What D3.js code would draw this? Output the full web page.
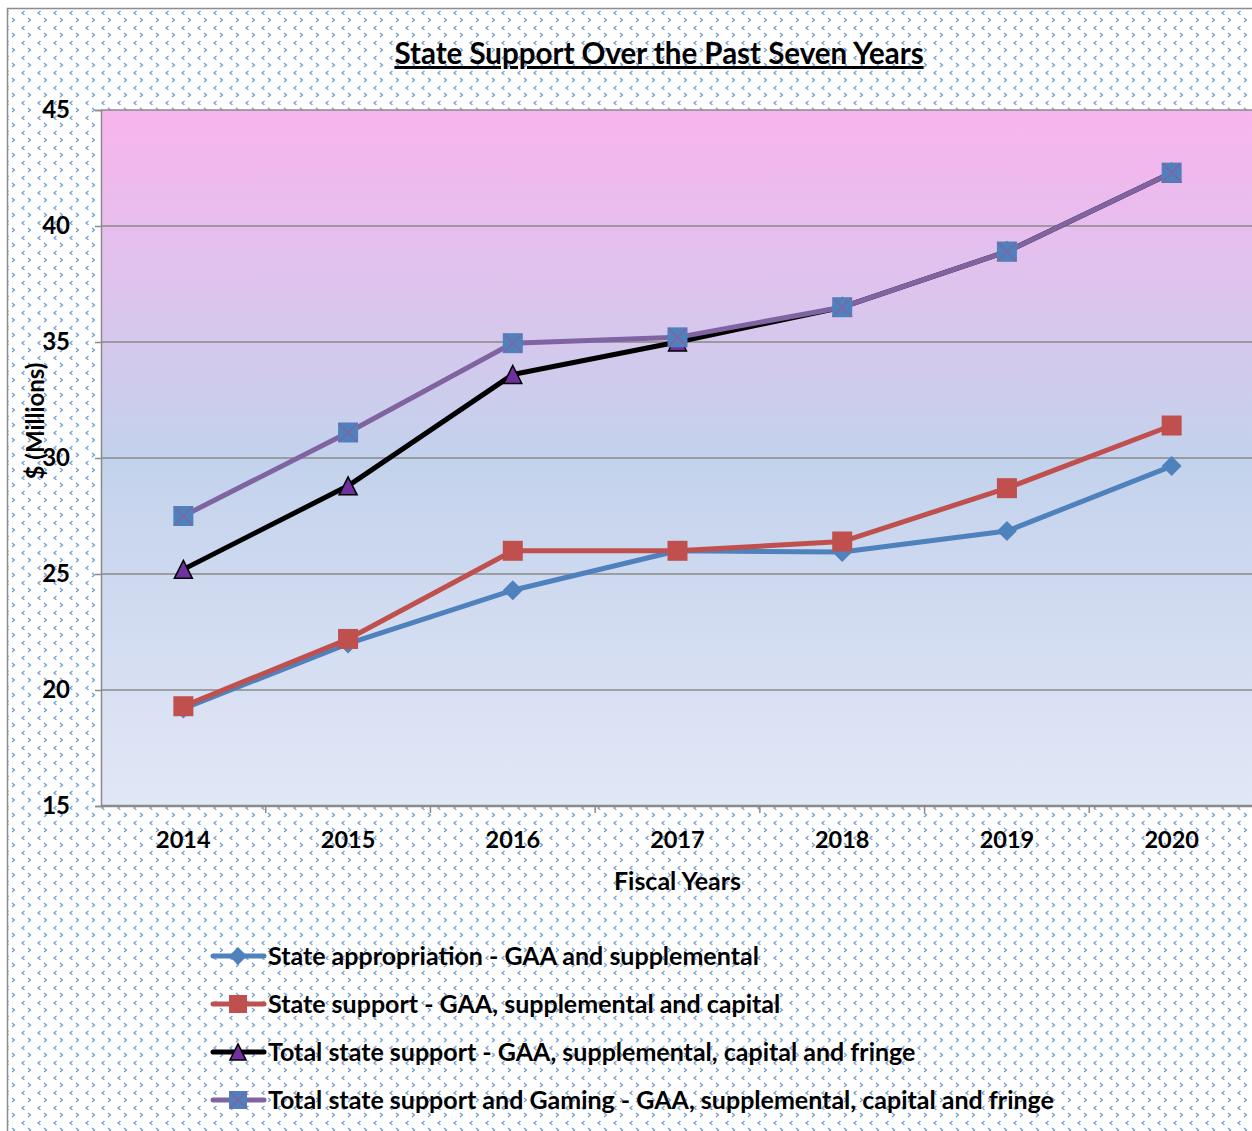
<!DOCTYPE html>
<html>
<head>
<meta charset="utf-8">
<script src="https://cdn.jsdelivr.net/npm/d3@7"></script>
<style>
  body { margin: 0; background: #fff; }
  svg { display: block; font-family: Lato, "Open Sans", sans-serif; }
</style>
</head>
<body>
<div id="chart"></div>
<script>
// Chart data
const years = ["2014", "2015", "2016", "2017", "2018", "2019", "2020"];
const stateAppropriation = [19.2, 22.0, 24.3, 26.0, 25.95, 26.85, 29.65];
const stateSupport = [19.3, 22.2, 26.0, 26.0, 26.4, 28.7, 31.4];
const totalStateSupport = [25.2, 28.8, 33.6, 35.0, 36.5, 38.9, 42.3];
const totalWithGaming = [27.5, 31.1, 34.95, 35.2, 36.5, 38.9, 42.3];
const yTicks = [15, 20, 25, 30, 35, 40, 45];
const seriesNames = [
    "State appropriation - GAA and supplemental",
    "State support - GAA, supplemental and capital",
    "Total state support - GAA, supplemental, capital and fringe",
    "Total state support and Gaming - GAA, supplemental, capital and fringe"
];

const W = 1252, H = 1131;
const margin = { top: 110, left: 101, right: -2, bottom: 325 };

const svg = d3.select("#chart")
    .append("svg")
    .attr("width", W)
    .attr("height", H);

const defs = svg.append("defs");

// dotted chevron fill used behind the whole chart
const pat = defs.append("pattern")
    .attr("id", "chev")
    .attr("patternUnits", "userSpaceOnUse")
    .attr("width", 16).attr("height", 15);
pat.append("rect").attr("width", 16).attr("height", 15).attr("fill", "#fff");
pat.append("path")
    .attr("d", "M8.5,11 L6,13 L8.5,15")
    .attr("fill", "none").attr("stroke", "#6f9bd3").attr("stroke-width", 1.2);
pat.append("path")
    .attr("d", "M12,3 L14.5,5 L12,7")
    .attr("fill", "none").attr("stroke", "#6f9bd3").attr("stroke-width", 1.2);

// plot area gradient (pink top to pale blue bottom)
const grad = defs.append("linearGradient")
    .attr("id", "plotBg")
    .attr("x1", 0).attr("y1", 0).attr("x2", 0).attr("y2", 1);
grad.append("stop").attr("offset", "0%").attr("stop-color", "#f9b4ee");
grad.append("stop").attr("offset", "50%").attr("stop-color", "#c3d2ec");
grad.append("stop").attr("offset", "100%").attr("stop-color", "#e2e7f6");

// chart frame
svg.append("rect")
    .attr("x", 7.5).attr("y", 8.5)
    .attr("width", W + 10).attr("height", H + 10)
    .attr("fill", "url(#chev)")
    .attr("stroke", "#8c8c8c").attr("stroke-width", 1.5);

const plotW = W - margin.left - margin.right;
const plotH = H - margin.top - margin.bottom;

const x = d3.scaleBand()
    .domain(years)
    .range([margin.left, margin.left + plotW]);

const y = d3.scaleLinear()
    .domain([15, 45])
    .range([margin.top + plotH, margin.top]);

svg.append("rect")
    .attr("x", margin.left).attr("y", margin.top)
    .attr("width", plotW).attr("height", plotH)
    .attr("fill", "url(#plotBg)");

// gridlines
svg.append("g")
    .selectAll("line")
    .data(yTicks.filter(d => d > 15))
    .join("line")
    .attr("x1", margin.left).attr("x2", margin.left + plotW)
    .attr("y1", d => y(d)).attr("y2", d => y(d))
    .attr("stroke", "#8a8a8a").attr("stroke-width", 1.5);

// y axis
const yAxis = svg.append("g")
    .attr("transform", `translate(${margin.left},0)`)
    .call(d3.axisLeft(y).tickValues(yTicks).tickSize(6).tickPadding(25));
yAxis.select(".domain").attr("stroke", "#8a8a8a").attr("stroke-width", 1.5);
yAxis.selectAll(".tick line").attr("stroke", "#8a8a8a").attr("stroke-width", 1.5);
yAxis.selectAll("text")
    .attr("fill", "#000")
    .style("font-size", "24px")
    .style("font-weight", "bold")
    .style("font-family", "Lato, sans-serif");

// x axis: ticks sit between categories
const xAxisG = svg.append("g")
    .attr("transform", `translate(0,${margin.top + plotH})`);
xAxisG.append("line")
    .attr("x1", margin.left).attr("x2", margin.left + plotW)
    .attr("stroke", "#8a8a8a").attr("stroke-width", 2.5);
xAxisG.selectAll(".sep")
    .data(years.slice(1))
    .join("line")
    .attr("class", "sep")
    .attr("x1", d => x(d)).attr("x2", d => x(d))
    .attr("y1", 0).attr("y2", 7)
    .attr("stroke", "#8a8a8a").attr("stroke-width", 1.5);
xAxisG.selectAll("text")
    .data(years)
    .join("text")
    .attr("x", d => x(d) + x.bandwidth() / 2)
    .attr("y", 42)
    .attr("text-anchor", "middle")
    .style("font-size", "23.5px")
    .style("font-weight", "bold")
    .text(d => d);

// axis titles
svg.append("text")
    .attr("x", x("2017") + x.bandwidth() / 2)
    .attr("y", 890)
    .attr("text-anchor", "middle")
    .style("font-size", "25px")
    .style("font-weight", "bold")
    .text("Fiscal Years");

svg.append("text")
    .attr("transform", "translate(44,421) rotate(-90)")
    .attr("text-anchor", "middle")
    .style("font-size", "24px")
    .style("font-weight", "bold")
    .text("$ (Millions)");

// title
svg.append("text")
    .attr("x", 659)
    .attr("y", 64)
    .attr("text-anchor", "middle")
    .style("font-size", "29.5px")
    .style("font-weight", "bold")
    .style("text-decoration", "underline")
    .text("State Support Over the Past Seven Years");

// series
const series = [
    { name: seriesNames[0], values: stateAppropriation, color: "#4f81bd", marker: "diamond" },
    { name: seriesNames[1], values: stateSupport, color: "#c0504d", marker: "square" },
    { name: seriesNames[2], values: totalStateSupport, color: "#000000", marker: "triangle" },
    { name: seriesNames[3], values: totalWithGaming, color: "#8064a2", marker: "xsquare" }
];

function drawMarker(g, type, k = 1) {
    if (type === "diamond") {
        g.append("path").attr("d", d3.symbol(d3.symbolSquare, 200 * k * k))
            .attr("transform", "rotate(45)")
            .attr("fill", "#4f81bd");
    } else if (type === "square") {
        g.append("rect").attr("x", -10 * k).attr("y", -10 * k)
            .attr("width", 20 * k).attr("height", 20 * k)
            .attr("fill", "#c0504d");
    } else if (type === "triangle") {
        g.append("path").attr("d", `M0,${-9 * k} L${9 * k},${9 * k} L${-9 * k},${9 * k} Z`)
            .attr("fill", "#7030a0").attr("stroke", "#000").attr("stroke-width", 1.5);
    } else {
        g.append("rect").attr("x", -10 * k).attr("y", -10 * k)
            .attr("width", 20 * k).attr("height", 20 * k)
            .attr("fill", "#4f81bd");
        g.append("path").attr("d", `M${-9 * k},${-9 * k} L${9 * k},${9 * k} M${9 * k},${-9 * k} L${-9 * k},${9 * k}`)
            .attr("stroke", "#8064a2").attr("stroke-width", 1.5);
    }
}

const line = d3.line()
    .x((d, i) => x(years[i]) + x.bandwidth() / 2)
    .y(d => y(d));

series.forEach(s => {
    svg.append("path")
        .datum(s.values)
        .attr("d", line)
        .attr("fill", "none")
        .attr("stroke", s.color)
        .attr("stroke-width", 5)
        .attr("stroke-linejoin", "round");
    s.values.forEach((v, i) => {
        const g = svg.append("g")
            .attr("transform", `translate(${x(years[i]) + x.bandwidth() / 2},${y(v)})`);
        drawMarker(g, s.marker);
    });
});

// legend
const legend = svg.append("g");
series.forEach((s, i) => {
    const ly = 956 + i * 48;
    legend.append("line")
        .attr("x1", 213).attr("x2", 264)
        .attr("y1", ly).attr("y2", ly)
        .attr("stroke", s.color).attr("stroke-width", 5)
        .attr("stroke-linecap", "round");
    const g = legend.append("g").attr("transform", `translate(238,${ly})`);
    drawMarker(g, s.marker, 0.9);
    legend.append("text")
        .attr("x", 268)
        .attr("y", ly + 9)
        .style("font-size", "25px")
        .style("font-weight", "bold")
        .text(s.name);
});
</script>
</body>
</html>
